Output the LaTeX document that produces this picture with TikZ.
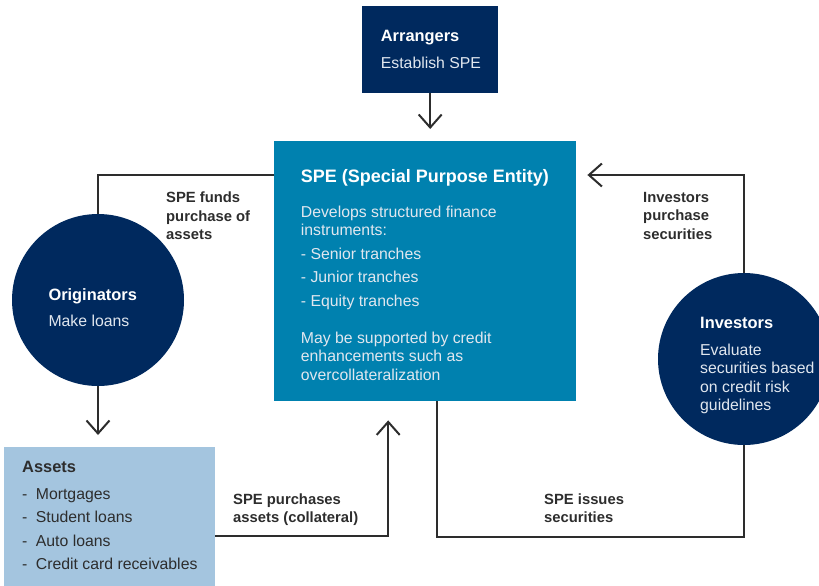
\documentclass[tikz,border=0pt]{standalone}
\usepackage{fontspec}
\setmainfont{Liberation Sans}
\usetikzlibrary{arrows.meta}

\definecolor{navy}{RGB}{0,41,94}
\definecolor{speblue}{RGB}{0,129,175}
\definecolor{assetblue}{RGB}{164,197,223}
\definecolor{ink}{RGB}{45,45,45}
\definecolor{paletext}{RGB}{225,231,239}

\newcommand\boxhead{\fontsize{16.4}{18.5}\selectfont\bfseries}
\newcommand\spehead{\fontsize{18}{18.5}\selectfont\bfseries}

\tikzset{
  navybox/.style={fill=navy, inner sep=0pt, anchor=north west},
  disc/.style={circle, fill=navy, inner sep=0pt, minimum size=172},
  blockstxt/.style={anchor=base west, inner sep=0pt, align=left,
    font=\fontsize{15.8}{18.5}\selectfont},
  flowlbl/.style={anchor=base west, inner sep=0pt, align=left, text=ink,
    font=\fontsize{14.8}{18.3}\selectfont\bfseries},
  link/.style={draw=ink, line width=2pt},
  flow/.style={link, -{Straight Barb[length=13pt,width=23pt]}}
}

\begin{document}
\begin{tikzpicture}[x=1pt,y=-1pt]
\useasboundingbox (0,0) rectangle (819,586);

% boxes and circles
\node[navybox, minimum width=136, minimum height=87] (arr) at (362,6) {};
\node[navybox, fill=speblue, minimum width=302, minimum height=260] (spe) at (274,141) {};
\node[navybox, fill=assetblue, minimum width=211, minimum height=145] (assets) at (4,447) {};
\node[disc] (orig) at (98,300) {};
\node[disc] (inv) at (744,359) {};

% texts inside (placed by the baseline of their last line)
\node[blockstxt, text=paletext] (arrtxt) at (380.7,68)
  {{\boxhead\color{white}Arrangers}\\[8.5pt]Establish SPE};
\node[blockstxt, text=paletext] (spetxt) at (300.7,380)
  {{\spehead\color{white}SPE (Special Purpose Entity)}\\[16pt]
   Develops structured finance\\instruments:\\[5pt]
   - Senior tranches\\[5pt]- Junior tranches\\[5pt]- Equity tranches\\[18.5pt]
   May be supported by credit\\enhancements such as\\overcollateralization};
\node[blockstxt, text=paletext] (origtxt) at (48.3,326.7)
  {{\boxhead\color{white}Originators}\\[7.5pt]Make loans};
\node[blockstxt, text=paletext] (invtxt) at (700,410.7)
  {{\boxhead\color{white}Investors}\\[8.2pt]Evaluate\\securities based\\on credit risk\\guidelines};
\node[blockstxt, text=ink] (assettxt) at (22,569.3)
  {{\boxhead Assets}\\[8.2pt]
   \makebox[13.7pt][l]{-}Mortgages\\[4.8pt]
   \makebox[13.7pt][l]{-}Student loans\\[4.8pt]
   \makebox[13.7pt][l]{-}Auto loans\\[4.8pt]
   \makebox[13.7pt][l]{-}Credit card receivables};

% connectors
\draw[flow, shorten >=12pt] (arr.south) -- (arr.south |- spe.north);
\draw[link] ([yshift=-34pt]spe.north west) -| (orig.north);
\draw[flow, shorten >=12pt] (orig.south) -- (orig.south |- assets.north);
\draw[flow, shorten >=19pt] ([yshift=-89pt]assets.north east) -| ([xshift=-37pt]spe.south);
\draw[link] ([xshift=12pt]spe.south) -- ++(0,136) -| (inv.south);
\draw[flow, shorten >=11pt] (inv.north) |- ([yshift=-34pt]spe.north east);

% connector labels
\node[flowlbl] (fundslbl) at (166,239.3) {SPE funds\\purchase of\\assets};
\node[flowlbl] (buylbl) at (643,239) {Investors\\purchase\\securities};
\node[flowlbl] (colllbl) at (233,522.5) {SPE purchases\\assets (collateral)};
\node[flowlbl] (issuelbl) at (544,522.5) {SPE issues\\securities};
\end{tikzpicture}
\end{document}
